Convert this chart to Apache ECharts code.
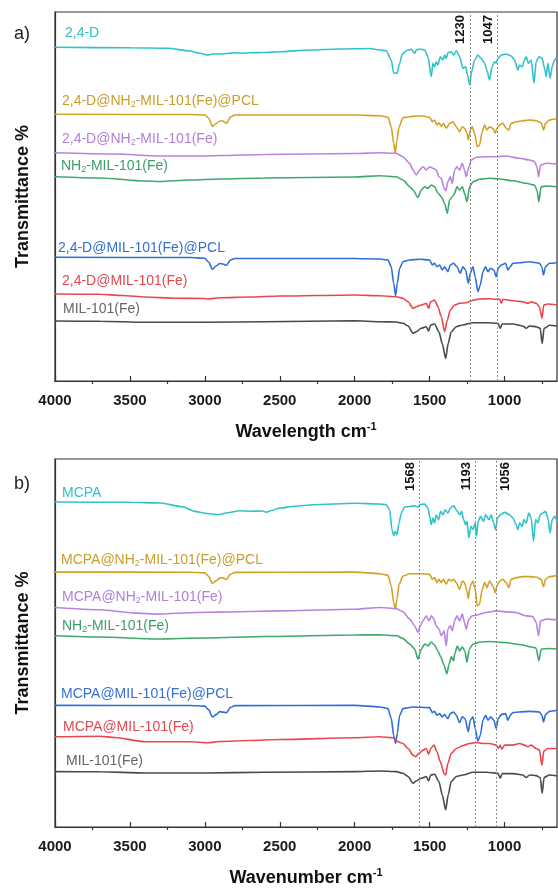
<!DOCTYPE html>
<html>
<head>
<meta charset="utf-8">
<script src="https://cdn.jsdelivr.net/npm/echarts@6/dist/echarts.min.js"></script>
<style>
html, body { margin: 0; padding: 0; background: #fff; }
#chart { width: 558px; height: 888px; }
</style>
</head>
<body>
<div id="chart"></div>
<script>
// FTIR spectra, stacked with vertical offsets; each point is [wavenumber cm-1, offset transmittance]
const tickValues = [1000, 1500, 2000, 2500, 3000, 3500, 4000];
const minorTickValues = [750, 1250, 1750, 2250, 2750, 3250, 3750];

// ---- panel a) 2,4-D series ----
const namesA = ['2,4-D', '2,4-D@NH2-MIL-101(Fe)@PCL', '2,4-D@NH2-MIL-101(Fe)', 'NH2-MIL-101(Fe)',
  '2,4-D@MIL-101(Fe)@PCL', '2,4-D@MIL-101(Fe)', 'MIL-101(Fe)'];
const peaksA = [1230, 1047];

const twoFourD_a = [[4000,333.7],[3500,333.2],[3250,332.7],[3100,330],[3030,327.7],[2980,326],[2950,327],[2900,327],[2850,327.5],[2800,328.3],[2750,327.7],[2700,328.3],[2600,328.5],[2500,329.3],[2300,331],[2100,332],[1900,332.5],[1833,331],[1789,330.3],[1756,321],[1740,308.3],[1718,307.7],[1700,317.7],[1682,327],[1656,330.3],[1622,331.7],[1600,327.7],[1589,331],[1567,332],[1533,331],[1511,324.3],[1489,304.3],[1478,317.7],[1467,314.3],[1456,319.3],[1444,316],[1429,324.3],[1411,321],[1400,326],[1389,322.7],[1378,328.3],[1356,329.3],[1340,326],[1322,330.3],[1300,324.3],[1278,312.7],[1260,314.3],[1247,306],[1233,296],[1220,309.3],[1200,321],[1178,326],[1156,322.7],[1133,317.7],[1118,311],[1100,301],[1084,314.3],[1067,319.3],[1056,317.7],[1044,322.7],[1022,326],[989,327],[956,325],[933,321],[911,311],[900,316],[882,314.3],[867,321],[856,324.3],[840,317.7],[822,321],[804,297.7],[789,319.3],[771,324.3],[749,322.7],[733,312.7],[722,304.3],[711,317.7],[696,302.7],[682,314.3],[667,321],[650,324.3]];

const twoFourD_nh2_pcl_a = [[4000,266.7],[3100,266.5],[3000,266],[2975,263],[2950,254.5],[2930,257],[2900,260],[2880,260],[2855,257.5],[2830,264],[2800,266],[2500,266],[2000,266],[1833,265.3],[1778,263.7],[1756,254.3],[1740,237.7],[1729,228.3],[1718,241],[1704,254.3],[1678,263.3],[1633,264.3],[1589,265],[1544,265],[1500,263.7],[1482,259.3],[1467,261],[1451,256],[1438,258.3],[1422,254.3],[1407,257.7],[1389,252.7],[1367,257.7],[1344,259.3],[1322,254.3],[1300,249.3],[1282,254.3],[1267,252.7],[1251,247.7],[1242,241],[1229,251],[1216,254.3],[1200,247.7],[1182,234.3],[1167,236],[1149,249.3],[1133,256],[1118,251],[1100,254.3],[1078,252.7],[1062,247.7],[1051,252.7],[1033,256],[1011,257.7],[989,252.7],[971,251],[956,257.7],[922,259.3],[878,260.3],[833,261],[789,260.3],[756,258.3],[740,251],[727,257.7],[700,261],[650,262.7]];

const twoFourD_nh2_a = [[4000,228.3],[3600,227],[3300,225],[3000,225],[2900,225.5],[2600,226.5],[2000,227.5],[1833,228.3],[1722,227.7],[1678,224.3],[1633,217.7],[1611,211],[1589,206],[1567,211],[1544,214.3],[1522,211],[1500,214.3],[1478,212.7],[1456,211],[1438,204.3],[1422,202.7],[1407,194.3],[1393,190],[1378,199.3],[1362,204.3],[1349,197.7],[1333,211],[1318,214.3],[1300,211],[1282,217.7],[1267,211],[1256,204.3],[1238,214.3],[1222,221],[1189,223.7],[1122,224.3],[1056,224.3],[989,225],[900,222.7],[833,221],[800,219.3],[784,214.3],[773,204.3],[760,216],[722,217.7],[650,216.7]];

const nh2mil_a = [[4000,204.3],[3700,203],[3400,200],[3300,199.5],[3100,201],[2900,202],[2600,203],[2000,204],[1833,205.3],[1722,204.3],[1678,201],[1633,194.3],[1611,191],[1578,183.5],[1556,191],[1533,194.3],[1511,192.7],[1489,196],[1467,194.3],[1444,187.7],[1422,184.3],[1400,177.7],[1382,167.7],[1367,181],[1349,184.3],[1333,187.7],[1318,194.3],[1300,191],[1282,194.3],[1267,187.7],[1251,179.3],[1233,194.3],[1211,199.3],[1167,201.7],[1100,202.7],[1033,202],[944,200.3],[856,197.7],[800,196],[784,191],[771,179.3],[756,194.3],[722,195],[650,194.3]];

const twoFourD_mil_pcl_a = [[4000,123.7],[3100,123.5],[3000,122.7],[2975,119],[2950,111.7],[2925,115],[2900,117.5],[2880,117],[2855,115.7],[2830,121],[2800,122.5],[2000,122.5],[1833,122],[1778,121],[1756,114.3],[1740,97.7],[1727,85.3],[1716,97.7],[1700,112.7],[1678,119.3],[1633,121],[1567,121.7],[1500,121],[1482,116],[1467,117.7],[1451,114.3],[1433,116],[1416,111],[1400,114.3],[1378,109.3],[1362,116],[1340,117.7],[1318,114.3],[1296,107.7],[1278,114.3],[1260,111],[1242,97.7],[1229,107.7],[1211,114.3],[1196,104.3],[1178,89.3],[1162,96],[1144,109.3],[1127,114.3],[1111,109.3],[1093,112.7],[1071,111],[1056,104.3],[1042,112.7],[1022,116],[993,117.7],[978,111],[962,114.3],[944,117.7],[900,118.3],[833,119.3],[767,117.7],[751,114.3],[740,106],[727,114.3],[700,117.7],[650,118.3]];

const twoFourD_mil_a = [[4000,87],[3700,86.7],[3550,85.5],[3400,84],[3200,82.7],[3000,82.5],[2980,82],[2900,83.2],[2700,84],[2500,85],[2000,86],[1833,85.3],[1722,84.3],[1678,82.7],[1644,79.3],[1611,72.7],[1589,74.3],[1556,76],[1522,77.7],[1507,72.7],[1493,79.3],[1467,81],[1444,74.3],[1422,64.3],[1400,49.3],[1382,61],[1362,71],[1333,76],[1300,77.7],[1256,78.3],[1222,80.3],[1167,82],[1100,82.3],[1056,81.7],[1033,82],[1022,77.7],[1011,81.7],[944,80.3],[878,79.3],[844,77.7],[822,79.3],[789,77.7],[767,74.3],[751,62.7],[738,76],[711,77],[650,76]];

const mil_a = [[4000,60],[3700,59.7],[3400,58.7],[3000,58.7],[2600,59.3],[2000,60.2],[1833,59.3],[1722,59],[1678,57.7],[1644,55],[1611,47.7],[1589,49.3],[1556,52.7],[1522,54.3],[1507,50],[1493,56],[1467,57],[1438,49.3],[1416,37.7],[1393,22.7],[1376,37.7],[1356,49.3],[1322,54.3],[1278,56],[1211,58.3],[1122,58.3],[1044,57.7],[1029,52.7],[1016,57],[944,57],[878,55],[856,52.7],[833,55],[789,54.3],[762,52.7],[749,37.7],[736,52.7],[700,55.7],[650,55]];

// ---- panel b) MCPA series ----
const namesB = ['MCPA', 'MCPA@NH2-MIL-101(Fe)@PCL', 'MCPA@NH2-MIL-101(Fe)', 'NH2-MIL-101(Fe)',
  'MCPA@MIL-101(Fe)@PCL', 'MCPA@MIL-101(Fe)', 'MIL-101(Fe)'];
const peaksB = [1568, 1193, 1056];

const mcpa_b = [[4000,326.7],[3500,326.5],[3300,325.7],[3150,322],[3067,317.3],[3000,315.5],[2911,314],[2850,316],[2767,318],[2700,317.5],[2620,317.7],[2590,316.5],[2560,318],[2500,320.7],[2400,322.5],[2280,324],[2000,325.5],[1833,324.7],[1789,324],[1767,319],[1751,299],[1740,293],[1729,297.3],[1718,294],[1704,305.7],[1689,315.7],[1667,321.7],[1633,322.3],[1600,323],[1578,321.7],[1567,324],[1533,324.7],[1511,320.7],[1500,312.3],[1489,304],[1478,310.7],[1467,305.7],[1456,314],[1440,309],[1427,317.3],[1411,314],[1396,319],[1378,315.7],[1362,320.7],[1340,323],[1322,319],[1300,314],[1287,317.3],[1273,309],[1260,304],[1251,307.3],[1238,290.7],[1224,302.3],[1211,299],[1196,305.7],[1187,292.3],[1176,307.3],[1160,312.3],[1140,307.3],[1127,314],[1104,309],[1089,314],[1073,305.7],[1060,299],[1047,310.7],[1029,314],[1000,316.3],[967,314],[944,310.7],[922,304],[911,299],[900,305.7],[882,302.3],[871,309],[856,305.7],[838,315.7],[822,310.7],[807,287.3],[793,309],[778,305.7],[762,314],[744,315.7],[727,317.3],[711,310.7],[696,295.7],[682,309],[667,312.3],[650,307.3]];

const mcpa_nh2_pcl_b = [[4000,256.3],[3100,256.2],[3000,255.5],[2975,252],[2950,245],[2925,247.5],[2900,250.5],[2880,250.5],[2855,249],[2830,254],[2800,256],[2000,256.3],[1833,254.7],[1778,253],[1756,242.3],[1740,225.7],[1729,219],[1718,229],[1704,244],[1678,252.3],[1633,254.7],[1544,254.7],[1500,254],[1482,249],[1467,250.7],[1451,245.7],[1438,249],[1422,245.7],[1407,249],[1389,244],[1373,249],[1356,247.3],[1340,249],[1322,245.7],[1300,239],[1282,247.3],[1267,245.7],[1251,237.3],[1242,229.7],[1229,242.3],[1211,247.3],[1196,239],[1182,222.3],[1167,224],[1149,239],[1133,245.7],[1118,240.7],[1100,247.3],[1078,242.3],[1062,235.7],[1051,242.3],[1033,247.3],[1011,249],[989,245.7],[971,240.7],[956,249],[922,250.7],[878,251.7],[833,251.7],[789,251.3],[756,249],[740,241.7],[727,249],[700,251.7],[650,253]];

const mcpa_nh2_b = [[4000,220.7],[3700,218.5],[3450,215],[3320,214],[3050,215.7],[2900,216],[2500,217.3],[2000,219],[1833,220.7],[1722,219.7],[1678,216.3],[1633,209],[1600,202.3],[1578,195.7],[1562,202.3],[1544,207.3],[1522,212.3],[1504,207.3],[1489,212.3],[1471,209],[1456,202.3],[1438,199],[1422,192.3],[1404,197.3],[1389,182],[1378,199],[1362,202.3],[1349,197.3],[1333,207.3],[1318,212.3],[1300,207.3],[1282,214],[1267,205.7],[1256,199],[1238,209],[1216,212.3],[1189,213],[1122,215.7],[1056,217.3],[989,216.3],[922,215.7],[856,212.3],[811,211.7],[789,205.7],[773,192.3],[760,207.3],[722,209],[650,208.3]];

const nh2mil_b = [[4000,192.3],[3700,191],[3320,189],[3000,190],[2600,191.5],[2000,193],[1833,193.3],[1720,192.3],[1680,189.7],[1633,184],[1600,179],[1578,169],[1555,179],[1533,184],[1510,182],[1490,186],[1467,183],[1445,177],[1425,171],[1405,163],[1385,154],[1370,164],[1355,171],[1340,167],[1333,174],[1315,182],[1300,177],[1282,181],[1265,177],[1251,165.7],[1235,179],[1210,184],[1160,186],[1100,186.5],[1000,185.5],[900,183.5],[820,181],[790,180],[771,167.3],[755,179],[700,179.5],[650,179]];

const mcpa_mil_pcl_b = [[4000,122.3],[3100,122.2],[3000,121.5],[2975,118],[2950,110.7],[2925,113],[2900,116],[2880,115.5],[2855,115],[2830,120],[2800,122],[2000,122.3],[1833,120.7],[1778,119],[1756,109],[1740,92.3],[1727,84],[1716,94],[1700,112.3],[1678,119],[1611,120.7],[1500,120],[1482,115],[1467,116.3],[1451,112.3],[1433,114],[1416,110.7],[1400,113],[1378,109],[1362,114],[1340,115.7],[1322,112.3],[1300,105],[1282,110.7],[1264,109],[1242,95.7],[1229,107.3],[1211,110.7],[1196,99],[1178,86.3],[1162,92.3],[1144,107.3],[1127,112.3],[1111,107.3],[1093,110.7],[1071,107.3],[1056,99],[1042,109],[1022,113],[993,114],[978,107.3],[962,112.3],[944,115],[900,115.7],[833,116.3],[767,115.7],[751,112.3],[740,105.7],[727,113],[700,116.3],[650,117.3]];

const mcpa_mil_b = [[4000,90.7],[3700,91.3],[3600,90],[3400,85.7],[3100,85.7],[2980,84.7],[2900,86],[2700,87],[2500,88],[2000,89.7],[1833,90.7],[1744,89.7],[1711,85.7],[1678,84],[1644,79],[1611,72.3],[1593,70.7],[1571,74],[1544,77.3],[1522,79],[1507,73],[1493,79],[1471,82.3],[1451,75.7],[1429,65.7],[1404,54],[1393,52.3],[1378,64],[1356,74],[1322,79],[1278,81.7],[1233,84],[1189,85],[1144,84],[1100,84],[1056,82.3],[1040,79],[1029,82.3],[1018,78.3],[1000,82.3],[944,82.3],[900,84],[867,82.3],[844,80.7],[822,82.3],[789,79],[767,77.3],[751,62.3],[738,76.3],[711,79],[650,79]];

const mil_b = [[4000,55.7],[3700,55.5],[3400,54.3],[3000,54.3],[2600,55],[2000,55.7],[1833,56.3],[1722,55.7],[1678,54],[1644,50.7],[1611,44],[1589,46.3],[1556,49],[1522,50.7],[1507,46.3],[1493,52.3],[1467,53],[1438,45.7],[1416,32.3],[1393,17.3],[1376,32.3],[1356,45.7],[1322,50.7],[1278,52.3],[1211,55],[1122,55],[1044,54],[1029,49],[1016,53.7],[944,53.7],[878,52.3],[856,49.7],[833,52.3],[789,51.7],[762,49.7],[749,34],[736,49.7],[700,52.3],[650,51.3]];

const seriesA = [twoFourD_a, twoFourD_nh2_pcl_a, twoFourD_nh2_a, nh2mil_a, twoFourD_mil_pcl_a, twoFourD_mil_a, mil_a];
const seriesB = [mcpa_b, mcpa_nh2_pcl_b, mcpa_nh2_b, nh2mil_b, mcpa_mil_pcl_b, mcpa_mil_b, mil_b];

// ---- styling ----
const FONT = '"Liberation Sans", Arial, Helvetica, sans-serif';
const lineColors = ['#2ec4c9', '#d4a125', '#b884e2', '#3ba86c', '#2e6fd8', '#e9474f', '#4a4a4a'];
const textColors = ['#2fbfc6', '#c99d2c', '#b07fd9', '#3b9e6a', '#3470d2', '#e24850', '#666666'];
const nameSpotsA = [[65, 33], [62, 101], [62, 139.5], [61, 166], [58, 248], [62, 281.5], [63, 309]];
const nameSpotsB = [[62, 493], [61, 560.5], [62, 597], [62, 626], [61, 694], [63, 727], [66, 761.5]];

const panels = [
  { top: 12, height: 369, yMax: 369, title: 'Wavelength cm', tag: 'a)', tagY: 34 },
  { top: 459, height: 370, yMax: 370, title: 'Wavenumber cm', tag: 'b)', tagY: 484 }
];

// "NH2" is written with a subscript 2
function richName(name) {
  const parts = name.split('NH2');
  let out = '';
  parts.forEach((p, i) => {
    if (i > 0) out += '{n|NH}{s|2}';
    if (p) out += '{n|' + p + '}';
  });
  return out;
}

const grid = [], xAxis = [], yAxis = [], series = [], graphic = [];

panels.forEach((p, gi) => {
  grid.push({ left: 55, right: 1, top: p.top, height: p.height, show: true,
    borderColor: '#333', borderWidth: 1.2, backgroundColor: 'transparent' });

  xAxis.push({
    type: 'value', gridIndex: gi, min: 650, max: 4000, inverse: true,
    axisLine: { show: true, onZero: false, lineStyle: { color: '#333', width: 1.2 } },
    axisTick: { show: true, inside: true, length: 5, customValues: tickValues, lineStyle: { color: '#333', width: 1.2 } },
    axisLabel: { show: true, customValues: tickValues, margin: 12, fontSize: 15, fontWeight: 'bold',
      color: '#1a1a1a', fontFamily: FONT, formatter: v => String(v) },
    splitLine: { show: false },
    name: '{t|' + p.title + '}{p|-1}', nameLocation: 'middle', nameGap: 40,
    nameTextStyle: { rich: {
      t: { fontSize: 18, fontWeight: 'bold', color: '#111', fontFamily: FONT, lineHeight: 22 },
      p: { fontSize: 11, fontWeight: 'bold', color: '#111', fontFamily: FONT, lineHeight: 11, verticalAlign: 'top' }
    } }
  });
  xAxis.push({
    type: 'value', gridIndex: gi, min: 650, max: 4000, inverse: true,
    axisLine: { show: false },
    axisTick: { show: true, inside: true, length: 3, customValues: minorTickValues, lineStyle: { color: '#333', width: 1.2 } },
    axisLabel: { show: false }, splitLine: { show: false }
  });

  yAxis.push({
    type: 'value', gridIndex: gi, min: 0, max: p.yMax,
    axisLine: { show: true, lineStyle: { color: '#333', width: 1.2 } },
    axisTick: { show: false }, axisLabel: { show: false }, splitLine: { show: false },
    name: 'Transmittance %', nameLocation: 'middle', nameGap: 23, nameRotate: 90,
    nameTextStyle: { fontSize: 18, fontWeight: 'bold', color: '#111', fontFamily: FONT }
  });

  graphic.push({ type: 'text', x: 22, y: p.tagY, silent: true,
    style: { text: p.tag, fontSize: 18, fontFamily: FONT, fill: '#222', align: 'center', verticalAlign: 'middle' } });
});

function addPanelSeries(list, names, peaks, spots, gi) {
  list.forEach((data, i) => {
    const s = {
      type: 'line', name: names[i], data: data,
      xAxisIndex: gi * 2, yAxisIndex: gi,
      symbol: 'none', showSymbol: false, smooth: 0.25, smoothMonotone: 'x',
      lineStyle: { color: lineColors[i], width: 1.6 }, silent: true, z: 3
    };
    if (i === 0) {
      s.markLine = {
        symbol: 'none', silent: true, animation: false,
        lineStyle: { type: [2, 2], color: '#8c8c8c', width: 1 },
        label: { fontSize: 13, fontWeight: 'bold', color: '#111', fontFamily: FONT, distance: 3 },
        data: peaks.map((pk, k) => ({
          xAxis: pk,
          label: { formatter: String(pk),
            position: (gi === 1 && k === peaks.length - 1) ? 'insideEndBottom' : 'insideEndTop' }
        }))
      };
    }
    series.push(s);

    graphic.push({ type: 'text', x: spots[i][0], y: spots[i][1], silent: true, z: 10,
      style: { text: richName(names[i]), verticalAlign: 'middle', align: 'left',
        rich: {
          n: { fontSize: 14, fontFamily: FONT, fill: textColors[i], lineHeight: 16 },
          s: { fontSize: 9, fontFamily: FONT, fill: textColors[i], lineHeight: 9, verticalAlign: 'bottom' }
        } } });
  });
}
addPanelSeries(seriesA, namesA, peaksA, nameSpotsA, 0);
addPanelSeries(seriesB, namesB, peaksB, nameSpotsB, 1);

const chart = echarts.init(document.getElementById('chart'), null, { renderer: 'canvas' });
chart.setOption({
  animation: false,
  backgroundColor: '#fff',
  textStyle: { fontFamily: FONT },
  grid, xAxis, yAxis, series, graphic
});
</script>
</body>
</html>
